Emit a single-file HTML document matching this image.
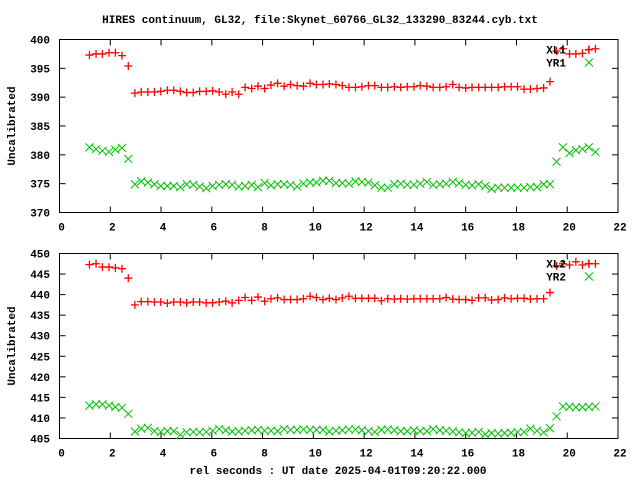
<!DOCTYPE html>
<html><head><meta charset="utf-8"><style>
html,body{margin:0;padding:0;background:#fff;}
svg{display:block;font-family:"Liberation Mono","DejaVu Sans Mono",monospace;font-weight:bold;}
</style></head><body>
<svg id="c" width="640" height="480" xmlns="http://www.w3.org/2000/svg">
<text x="320" y="23" font-size="11" text-anchor="middle">HIRES continuum, GL32, file:Skynet_60766_GL32_133290_83244.cyb.txt</text>
<text x="338" y="474" font-size="11" text-anchor="middle">rel seconds : UT date 2025-04-01T09:20:22.000</text>
</svg>
<script>
const xs=[1.18,1.44,1.69,1.95,2.20,2.46,2.71,2.97,3.22,3.48,3.74,3.99,4.25,4.50,4.76,5.01,5.27,5.52,5.78,6.03,6.29,6.55,6.80,7.06,7.31,7.57,7.82,8.08,8.33,8.59,8.85,9.10,9.36,9.61,9.87,10.12,10.38,10.63,10.89,11.14,11.40,11.66,11.91,12.17,12.42,12.68,12.93,13.19,13.44,13.70,13.96,14.21,14.47,14.72,14.98,15.23,15.49,15.74,16.00,16.25,16.51,16.77,17.02,17.28,17.53,17.79,18.04,18.30,18.55,18.81,19.07,19.32,19.58,19.83,20.09,20.34,20.60,20.85,21.11];
const xl1=[397.3,397.5,397.5,397.7,397.7,397.2,395.4,
390.7,390.9,390.9,390.9,391.0,391.2,391.2,391.0,390.8,390.8,391.0,391.0,391.1,390.9,390.5,390.9,390.5,391.7,391.5,
391.9,391.5,392.1,392.4,391.9,392.2,392.0,391.9,392.4,392.2,392.2,392.3,392.2,392.0,391.7,391.7,391.8,392.0,392.0,391.7,391.7,391.8,391.7,391.8,391.8,392.0,391.9,391.7,391.7,391.8,392.2,391.7,391.6,391.7,391.7,391.7,391.7,391.7,391.8,391.8,391.8,391.4,391.4,391.5,391.6,
392.7,398.0,398.4,397.5,397.5,397.6,398.2,398.4];
const yr1=[381.3,381.0,380.7,380.5,380.9,381.2,379.3,
374.9,375.4,375.2,374.9,374.6,374.6,374.6,374.4,374.9,374.8,374.5,374.2,374.6,374.8,374.9,374.8,374.5,374.6,374.8,374.4,375.1,374.7,374.9,374.9,374.8,374.5,375.0,375.2,375.2,375.5,375.5,375.1,375.1,375.0,375.4,375.3,375.2,374.7,374.3,374.3,374.9,375.0,374.8,374.8,375.0,375.3,374.8,374.9,375.0,375.3,375.1,374.8,374.7,374.9,374.6,374.1,374.3,374.3,374.3,374.3,374.3,374.4,374.4,374.9,
374.9,378.8,381.3,380.3,380.8,381.0,381.3,380.5];
const xl2=[447.3,447.5,446.7,446.7,446.5,446.3,444.0,
437.5,438.3,438.3,438.2,438.2,437.9,438.2,438.2,438.0,438.2,438.2,438.0,438.0,438.2,438.4,438.0,438.6,439.3,438.6,439.4,438.4,439.0,439.2,438.8,438.8,438.8,439.0,439.6,439.3,438.8,439.1,438.8,439.2,439.6,439.1,439.1,439.1,439.1,438.5,439.0,438.9,439.0,438.9,439.0,439.0,439.0,439.0,439.0,439.3,438.9,438.8,438.8,438.6,439.2,439.2,438.7,438.8,439.2,439.0,439.1,439.1,438.9,439.0,439.0,
440.5,447.0,447.5,447.2,448.0,447.2,447.5,447.5];
const yr2=[413.0,413.3,413.3,413.0,412.7,412.5,411.0,
406.7,407.4,407.6,406.8,406.6,406.8,406.8,405.9,406.5,406.6,406.5,406.6,406.9,407.3,407.0,406.7,406.7,406.9,407.0,407.1,406.9,406.9,406.8,407.3,407.1,407.1,407.2,407.1,407.1,407.1,406.7,406.9,407.0,407.2,407.2,407.0,406.8,406.6,407.1,407.2,407.0,406.8,406.8,407.0,406.8,406.8,407.3,407.0,406.9,406.7,406.5,406.3,406.4,406.6,406.0,406.3,406.2,406.3,406.4,406.5,406.6,407.4,406.9,406.5,
407.5,410.4,412.8,412.7,412.6,412.6,412.7,412.8];
const xTicks=[0,2,4,6,8,10,12,14,16,18,20,22];
const yTicks1=[370,375,380,385,390,395,400];
const yTicks2=[405,410,415,420,425,430,435,440,445,450];

const NS="http://www.w3.org/2000/svg";
const svg=document.getElementById('c');
function mk(t,a,p){const e=document.createElementNS(NS,t);for(const k in a)e.setAttribute(k,a[k]);(p||svg).appendChild(e);return e;}
const L=59.5,R=618,XMIN=0,XMAX=22;
const sx=v=>L+(v-XMIN)/(XMAX-XMIN)*(R-L);

function panel(name,top,bot,ymin,ymax,yTicks,s1,s2,n1,n2){
  const g=mk('g',{});
  
  
  const sy=v=>bot-(v-ymin)/(ymax-ymin)*(bot-top);
  const fr=mk('rect',{x:L,y:top,width:R-L,height:bot-top,fill:'none',stroke:'#000','stroke-width':1},g);
  
  
  xTicks.forEach(t=>{
    const x=sx(t);
    mk('line',{x1:x,y1:bot,x2:x,y2:bot-6,stroke:'#000'},g);
    mk('line',{x1:x,y1:top,x2:x,y2:top+6,stroke:'#000'},g);
    const tx=mk('text',{x:x+2,y:bot+18,'font-size':11,'text-anchor':'middle'},g);
    tx.textContent=t;
    
    
  });
  yTicks.forEach(t=>{
    const y=sy(t);
    mk('line',{x1:L,y1:y,x2:L+6,y2:y,stroke:'#000'},g);
    mk('line',{x1:R,y1:y,x2:R-6,y2:y,stroke:'#000'},g);
    const tx=mk('text',{x:50,y:y+4,'font-size':11,'text-anchor':'end'},g);
    tx.textContent=t;
    
    
  });
  const yl=mk('text',{x:0,y:0,'font-size':11,'text-anchor':'middle',transform:`translate(15,${(top+bot)/2}) rotate(-90)`},g);
  yl.textContent='Uncalibrated';
  
  
  function plus(x,y,p){mk('path',{d:`M${x-4},${y}H${x+4}M${x},${y-4}V${y+4}`,stroke:'#ff0000','stroke-width':1.3,fill:'none'},p);}
  function cross(x,y,p){mk('path',{d:`M${x-4},${y-4}L${x+4},${y+4}M${x-4},${y+4}L${x+4},${y-4}`,stroke:'#00c000','stroke-width':1,fill:'none'},p);}
  const g1=mk('g',{},g);
  const g2=mk('g',{},g);
  const n=Math.min(xs.length,s1.length,s2.length);
  for(let i=0;i<n;i++){cross(sx(xs[i]),sy(s2[i]),g2);}
  for(let i=0;i<n;i++){plus(sx(xs[i]),sy(s1[i]),g1);}
  // legend
  const lg=mk('g',{},g);
  const t1=mk('text',{x:566,y:top+14,'font-size':11,'text-anchor':'end'},lg);t1.textContent=n1;
  
  const t2=mk('text',{x:566,y:top+27,'font-size':11,'text-anchor':'end'},lg);t2.textContent=n2;
  
  plus(589,top+10,lg);cross(589,top+23,lg);
}
panel('top-panel',39.5,212.5,370,400,yTicks1,xl1,yr1,'XL1','YR1');
panel('bottom-panel',253.5,438.5,405,450,yTicks2,xl2,yr2,'XL2','YR2');
</script>
</body></html>
